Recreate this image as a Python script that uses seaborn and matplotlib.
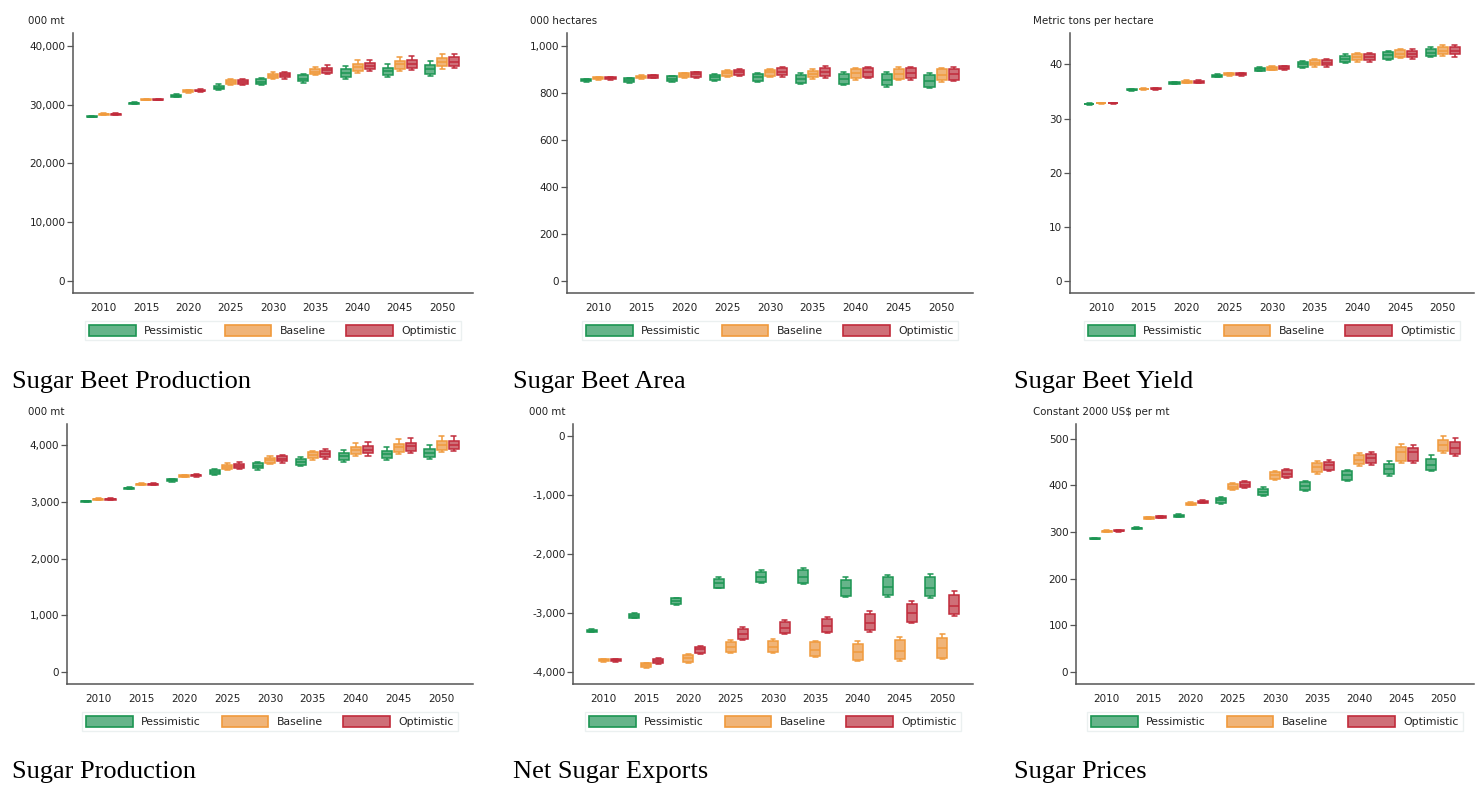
import pandas as pd
import matplotlib
matplotlib.use("Agg")
import matplotlib.pyplot as plt
from matplotlib.patches import Patch
from matplotlib.ticker import FuncFormatter
import seaborn as sns

years = ["2010", "2015", "2020", "2025", "2030", "2035", "2040", "2045", "2050"]
scenarios = ["Pessimistic", "Baseline", "Optimistic"]
fill_colors = ["#66b48a", "#f0b478", "#cf6f78"]
edge_colors = ["#1b9552", "#f09a3c", "#c12b3b"]

# every box is (whisker low, q1, median, q3, whisker high)
# Sugar Beet Production (000 mt)
beet_prod_pess = [(27850, 27920, 27990, 28060, 28120), (30100, 30180, 30260, 30340, 30420),
                  (31250, 31350, 31500, 31650, 31750), (32450, 32600, 32900, 33200, 33450),
                  (33300, 33500, 33940, 34300, 34550), (33750, 34000, 34450, 35000, 35300),
                  (34400, 34700, 35360, 36000, 36550), (34650, 35000, 35700, 36300, 37000),
                  (34850, 35150, 36040, 36700, 37400)]
beet_prod_base = [(28260, 28330, 28390, 28450, 28510), (30720, 30800, 30880, 30960, 31040),
                  (32050, 32150, 32300, 32450, 32550), (33350, 33500, 33830, 34150, 34350),
                  (34350, 34550, 34900, 35250, 35500), (35000, 35200, 35580, 36000, 36400),
                  (35450, 35800, 36430, 37000, 37550), (35750, 36100, 36900, 37450, 38100),
                  (36100, 36500, 37280, 38000, 38600)]
beet_prod_opt = [(28260, 28330, 28390, 28450, 28510), (30720, 30800, 30880, 30960, 31040),
                 (32150, 32250, 32400, 32550, 32650), (33400, 33550, 33880, 34200, 34400),
                 (34450, 34650, 35010, 35350, 35600), (35300, 35450, 35870, 36300, 36700),
                 (35650, 36000, 36600, 37100, 37650), (35850, 36200, 37000, 37550, 38350),
                 (36200, 36600, 37340, 38050, 38700)]

# Sugar Beet Area (000 hectares)
beet_area_pess = [(848, 850, 854, 858, 860), (843, 846, 854, 862, 865), (847, 850, 860, 870, 874),
                  (850, 854, 867, 878, 882), (845, 850, 867, 881, 886), (836, 842, 861, 878, 884),
                  (832, 838, 861, 880, 888), (826, 833, 855, 880, 887), (819, 826, 851, 876, 883)]
beet_area_base = [(856, 858, 862, 866, 868), (860, 863, 868, 873, 876), (864, 867, 875, 883, 886),
                  (869, 874, 885, 895, 899), (868, 873, 887, 898, 903), (860, 866, 882, 895, 902),
                  (857, 864, 885, 903, 908), (853, 861, 882, 900, 909), (847, 853, 877, 900, 906)]
beet_area_opt = [(856, 858, 862, 866, 868), (862, 865, 870, 875, 878), (865, 869, 879, 887, 890),
                 (871, 876, 888, 899, 903), (869, 875, 891, 905, 911), (863, 870, 889, 905, 914),
                 (862, 869, 889, 905, 912), (856, 864, 885, 904, 912), (851, 857, 880, 902, 910)]

# Sugar Beet Yield (metric tons per hectare)
beet_yield_pess = [(32.6, 32.65, 32.7, 32.75, 32.8), (35.15, 35.22, 35.3, 35.38, 35.45),
                   (36.3, 36.4, 36.55, 36.7, 36.8), (37.6, 37.72, 37.9, 38.08, 38.2),
                   (38.7, 38.85, 39.1, 39.35, 39.5), (39.3, 39.55, 40.0, 40.45, 40.7),
                   (40.2, 40.45, 41.0, 41.5, 41.85), (40.8, 41.05, 41.66, 42.3, 42.5),
                   (41.3, 41.55, 42.2, 42.9, 43.2)]
beet_yield_base = [(32.75, 32.8, 32.85, 32.9, 32.95), (35.3, 35.37, 35.44, 35.52, 35.6),
                   (36.55, 36.65, 36.8, 36.95, 37.05), (37.85, 37.97, 38.15, 38.33, 38.45),
                   (38.9, 39.05, 39.3, 39.55, 39.7), (39.6, 39.85, 40.3, 40.75, 41.0),
                   (40.5, 40.75, 41.3, 41.85, 42.15), (41.1, 41.35, 41.97, 42.6, 42.85),
                   (41.55, 41.85, 42.5, 43.2, 43.55)]
beet_yield_opt = [(32.75, 32.8, 32.85, 32.9, 32.95), (35.35, 35.42, 35.5, 35.58, 35.65),
                  (36.55, 36.65, 36.8, 36.95, 37.05), (37.9, 38.02, 38.2, 38.38, 38.5),
                  (39.0, 39.15, 39.4, 39.65, 39.8), (39.6, 39.85, 40.3, 40.75, 41.05),
                  (40.5, 40.75, 41.3, 41.85, 42.15), (41.05, 41.3, 41.9, 42.55, 42.8),
                  (41.45, 41.85, 42.5, 43.2, 43.55)]

# Sugar Production (000 mt)
sugar_prod_pess = [(2995, 3000, 3009, 3018, 3023), (3228, 3235, 3245, 3255, 3262),
                   (3362, 3372, 3387, 3400, 3410), (3478, 3500, 3534, 3570, 3590),
                   (3570, 3595, 3640, 3685, 3710), (3630, 3652, 3705, 3764, 3794),
                   (3705, 3735, 3806, 3865, 3920), (3735, 3770, 3847, 3910, 3980),
                   (3758, 3790, 3865, 3935, 4015)]
sugar_prod_base = [(3036, 3041, 3050, 3059, 3064), (3293, 3300, 3310, 3320, 3327),
                   (3438, 3448, 3463, 3476, 3486), (3560, 3582, 3623, 3662, 3685),
                   (3672, 3696, 3741, 3786, 3810), (3745, 3770, 3829, 3882, 3905),
                   (3805, 3840, 3912, 3970, 4040), (3853, 3888, 3965, 4030, 4110),
                   (3882, 3918, 4006, 4070, 4160)]
sugar_prod_opt = [(3036, 3041, 3050, 3059, 3064), (3299, 3306, 3316, 3326, 3333),
                  (3444, 3454, 3469, 3482, 3492), (3575, 3598, 3640, 3680, 3703),
                  (3695, 3719, 3764, 3809, 3835), (3760, 3788, 3847, 3894, 3945),
                  (3811, 3858, 3924, 3982, 4053), (3865, 3900, 3983, 4040, 4124),
                  (3894, 3935, 4012, 4070, 4170)]

# Net Sugar Exports (000 mt)
net_exp_pess = [(-3330, -3320, -3302, -3285, -3275), (-3095, -3085, -3053, -3020, -3008),
                (-2860, -2850, -2803, -2755, -2740), (-2585, -2570, -2491, -2420, -2385),
                (-2497, -2475, -2389, -2310, -2270), (-2508, -2485, -2383, -2270, -2230),
                (-2735, -2712, -2582, -2435, -2394), (-2724, -2700, -2565, -2395, -2355),
                (-2752, -2722, -2582, -2395, -2343)]
net_exp_base = [(-3835, -3825, -3807, -3790, -3780), (-3940, -3928, -3892, -3855, -3845),
                (-3850, -3838, -3773, -3715, -3705), (-3688, -3660, -3575, -3495, -3462),
                (-3688, -3665, -3575, -3475, -3440), (-3756, -3733, -3631, -3500, -3472),
                (-3819, -3800, -3671, -3530, -3472), (-3813, -3790, -3643, -3462, -3416),
                (-3790, -3767, -3603, -3428, -3365)]
net_exp_opt = [(-3835, -3825, -3807, -3790, -3780), (-3870, -3860, -3819, -3785, -3775),
               (-3695, -3685, -3620, -3573, -3562), (-3460, -3440, -3359, -3280, -3235),
               (-3359, -3338, -3251, -3160, -3121), (-3348, -3325, -3223, -3105, -3064),
               (-3319, -3290, -3166, -3020, -2967), (-3177, -3155, -3007, -2850, -2797),
               (-3047, -3024, -2877, -2690, -2633)]

# Sugar Prices (constant 2000 US$ per mt)
price_pess = [(284, 285, 286, 287, 288), (305.5, 306.5, 307.8, 309, 310), (331.5, 333, 335, 337, 338.5),
              (361, 363, 368, 373, 375), (378, 380.5, 387, 393, 396), (388, 390.5, 399.6, 406.5, 409.5),
              (409, 412.5, 421.8, 430.5, 433), (421, 424.5, 436.2, 446.5, 452), (431, 433.5, 444.8, 457.5, 466)]
price_base = [(300, 301, 302, 303, 304), (327.5, 328.5, 330, 331.5, 332.5), (357.5, 359, 361, 363, 364.5),
              (390, 392, 397.5, 403, 405), (412, 414, 421.8, 429, 431), (425.5, 429.5, 439.8, 448.5, 452),
              (442, 446.5, 455.5, 464.5, 470), (449, 453.5, 472, 482.5, 489), (470, 474.5, 487, 497, 505.5)]
price_opt = [(300.7, 301.7, 302.7, 303.7, 304.7), (329.5, 330.5, 332, 333.5, 334.5), (361.5, 363, 365, 367, 368.5),
             (394, 396, 401.7, 407, 409), (415.5, 417.5, 425.4, 432.5, 434.5), (430, 434, 443.3, 450.5, 455.5),
             (443, 448, 458.4, 468, 472.5), (449, 451.5, 472, 480.5, 487.5), (463, 467.5, 480.7, 493.5, 501)]

sns.set_style("white")
plt.rcParams["font.family"] = ["DejaVu Sans"]

W, H = 1484, 787
fig = plt.figure(figsize=(W / 100, H / 100), dpi=100)
fig.patch.set_facecolor("white")


def draw_panel(box_px, boxes, ylim, yticks, unit, unit_px, caption, caption_px):
    left, top, right, bottom = box_px
    ax = fig.add_axes([left / W, 1 - bottom / H, (right - left) / W, (bottom - top) / H])
    for i, scen in enumerate(scenarios):
        rows = [(yr, scen, v) for yr, b in zip(years, boxes[i]) for v in b]
        df = pd.DataFrame(rows, columns=["year", "scenario", "value"])
        sns.boxplot(data=df, x="year", y="value", hue="scenario", order=years, hue_order=scenarios,
                    palette={s: fill_colors[i] for s in scenarios}, linecolor=edge_colors[i],
                    saturation=1, width=0.85, gap=0.17, dodge=True, whis=(0, 100), linewidth=1.1,
                    legend=False, ax=ax)
    ax.set_xlim(-0.73, 8.73)
    ax.set_ylim(*ylim)
    ax.set_yticks(yticks)
    ax.yaxis.set_major_formatter(FuncFormatter(lambda v, p: f"{v:,.0f}"))
    ax.set_xlabel("")
    ax.set_ylabel("")
    sns.despine(ax=ax)
    for sp in ["left", "bottom"]:
        ax.spines[sp].set_color("#555555")
        ax.spines[sp].set_linewidth(1.1)
    ax.tick_params(axis="y", left=True, length=4, width=0.9, color="#555555",
                   labelsize=7.5, labelcolor="#222222", pad=1.5)
    ax.tick_params(axis="x", bottom=False, labelsize=7.5, labelcolor="#222222", pad=4)

    handles = [Patch(facecolor=fill_colors[i], edgecolor=edge_colors[i], linewidth=1.2)
               for i in range(3)]
    leg = ax.legend(handles, scenarios, loc="upper center", bbox_to_anchor=(0.5, -0.085),
                    ncol=3, frameon=True, fancybox=False, edgecolor="#e6eded",
                    handlelength=4.3, handleheight=1.15, columnspacing=1.9, handletextpad=0.8,
                    borderpad=0.4, fontsize=7.8)
    for t in leg.get_texts():
        t.set_color("#222222")

    fig.text(unit_px[0] / W, 1 - unit_px[1] / H, unit, fontsize=7.4, color="#222222",
             ha="left", va="center")
    fig.text(caption_px[0] / W, 1 - caption_px[1] / H, caption, fontsize=19,
             family="Liberation Serif", color="black", ha="left", va="baseline")
    return ax


draw_panel((73, 33, 473, 293), [beet_prod_pess, beet_prod_base, beet_prod_opt],
           (-2040, 42200), [0, 10000, 20000, 30000, 40000], "000 mt", (28, 21),
           "Sugar Beet Production", (12, 388))
draw_panel((567, 33, 973, 293), [beet_area_pess, beet_area_base, beet_area_opt],
           (-51, 1055), [0, 200, 400, 600, 800, 1000], "000 hectares", (530, 21),
           "Sugar Beet Area", (513, 388))
draw_panel((1070, 33, 1474, 293), [beet_yield_pess, beet_yield_base, beet_yield_opt],
           (-2.2, 45.8), [0, 10, 20, 30, 40], "Metric tons per hectare", (1033, 21),
           "Sugar Beet Yield", (1014, 388))
draw_panel((67, 424, 473, 684), [sugar_prod_pess, sugar_prod_base, sugar_prod_opt],
           (-218, 4379), [0, 1000, 2000, 3000, 4000], "000 mt", (28, 412),
           "Sugar Production", (12, 778))
draw_panel((573, 424, 973, 684), [net_exp_pess, net_exp_base, net_exp_opt],
           (-4210, 211), [-4000, -3000, -2000, -1000, 0], "000 mt", (529, 412),
           "Net Sugar Exports", (513, 778))
draw_panel((1076, 424, 1474, 684), [price_pess, price_base, price_opt],
           (-26.5, 532), [0, 100, 200, 300, 400, 500], "Constant 2000 US$ per mt", (1033, 412),
           "Sugar Prices", (1014, 778))

fig.savefig("out.png", dpi=100, facecolor="white")
